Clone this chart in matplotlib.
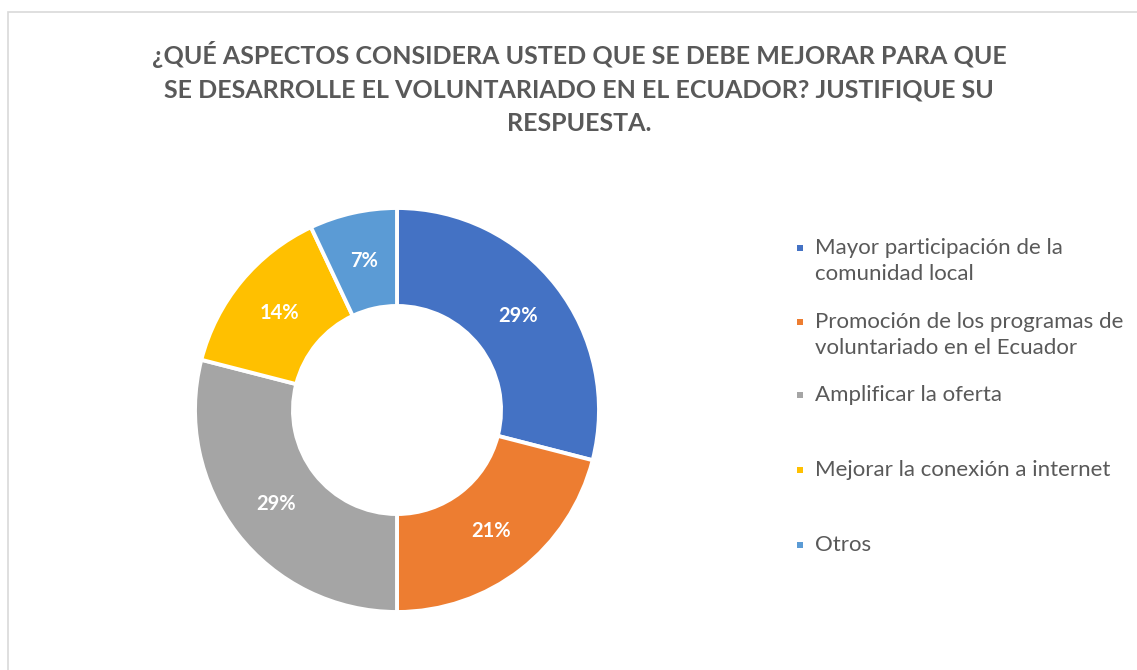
import matplotlib.pyplot as plt
import matplotlib.patches as mpatches

# --- data ---
categories = [
    "Mayor participación de la\ncomunidad local",
    "Promoción de los programas de\nvoluntariado en el Ecuador",
    "Amplificar la oferta",
    "Mejorar la conexión a internet",
    "Otros",
]
shares = [29, 21, 29, 14, 7]
colors = ["#4472C4", "#ED7D31", "#A5A5A5", "#FFC000", "#5B9BD5"]
title = ("¿QUÉ ASPECTOS CONSIDERA USTED QUE SE DEBE MEJORAR PARA QUE\n"
         "SE DESARROLLE EL VOLUNTARIADO EN EL ECUADOR? JUSTIFIQUE SU\n"
         "RESPUESTA.")

plt.rcParams['font.family'] = ['Lato', 'DejaVu Sans']
W, H = 1137, 670
fig = plt.figure(figsize=(W / 100, H / 100), dpi=100)

# chart area border (only top/left edges visible in the crop)
fig.patches.append(mpatches.Rectangle((8 / W, -0.1), 1.2, 1.1 - 12 / H,
                                      transform=fig.transFigure, fill=False,
                                      edgecolor="#D9D9D9", linewidth=1.2))

# --- donut ---
ax = fig.add_axes([194 / W, 1 - 612 / H, 406 / W, 404 / H])
wedges, texts = ax.pie(shares, colors=colors, startangle=90, counterclock=False,
                       radius=1.0, labels=[f"{v}%" for v in shares],
                       labeldistance=0.757,
                       wedgeprops=dict(width=0.485, edgecolor="white", linewidth=2.8))
for t in texts:
    t.set_color("white")
    t.set_fontweight("bold")
    t.set_fontsize(14.5)
    t.set_ha("center")
    t.set_va("center")
ax.set_xlim(-1.0, 1.0)
ax.set_ylim(-1.0, 1.0)
ax.set_aspect("equal")
ax.axis("off")

# --- title ---
fig.text(579 / W, 1 - 88 / H, title, ha="center", va="center", fontsize=18,
         fontweight="bold", color="#595959", linespacing=1.55)

# --- legend ---
legend_y = [248, 322, 395, 470, 545]
for lab, col, y in zip(categories, colors, legend_y):
    fig.patches.append(mpatches.Rectangle((797 / W, 1 - (y + 3) / H), 6 / W, 6 / H,
                                          transform=fig.transFigure,
                                          facecolor=col, edgecolor="none"))
    fig.text(815 / W, 1 - (y - 10) / H, lab, ha="left", va="top", fontsize=16,
             color="#595959", linespacing=1.36)

fig.savefig("out.png", dpi=100, facecolor="white")
